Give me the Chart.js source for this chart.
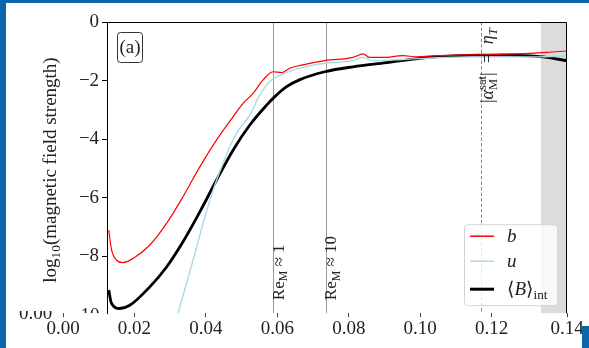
<!DOCTYPE html>
<html>
<head>
<meta charset="utf-8">
<script src="https://cdn.jsdelivr.net/npm/chart.js@4.4.1/dist/chart.umd.min.js"></script>
<style>
  html, body { margin: 0; padding: 0; background: #fff; }
</style>
</head>
<body>
<canvas id="field" width="589" height="348"></canvas>
<script>
'use strict';

// b (red)
const bX = [0.0128, 0.0136, 0.0150, 0.0168, 0.0196, 0.0243, 0.0290, 0.0336, 0.0383, 0.0430, 0.0476, 0.0504, 0.0532, 0.0560, 0.0588, 0.0612, 0.0635, 0.0665, 0.0733, 0.0812, 0.0840, 0.0859, 0.0896, 0.0952, 0.0990, 0.1046, 0.1102, 0.1167, 0.1232, 0.1307, 0.1354, 0.1410];
const bY = [-7.11, -7.79, -8.14, -8.22, -8.08, -7.62, -6.88, -5.97, -4.95, -4.03, -3.24, -2.78, -2.44, -1.98, -1.70, -1.73, -1.58, -1.48, -1.32, -1.21, -1.09, -1.21, -1.21, -1.15, -1.19, -1.15, -1.13, -1.12, -1.10, -1.07, -1.04, -0.99];
// u (light blue)
const uX = [0.0309, 0.0322, 0.0364, 0.0411, 0.0448, 0.0476, 0.0495, 0.0523, 0.0551, 0.0580, 0.0607, 0.0640, 0.0672, 0.0733, 0.0812, 0.0840, 0.0868, 0.0952, 0.1046, 0.1139, 0.1232, 0.1326, 0.1410];
const uY = [-10.5, -9.96, -8.14, -6.09, -4.83, -4.03, -3.63, -3.18, -2.50, -2.02, -1.82, -1.66, -1.55, -1.41, -1.32, -1.21, -1.32, -1.28, -1.22, -1.19, -1.19, -1.19, -1.16];
// <B>_int (black)
const BX = [0.0128, 0.0136, 0.0159, 0.0187, 0.0243, 0.0290, 0.0336, 0.0383, 0.0430, 0.0476, 0.0523, 0.0570, 0.0593, 0.0626, 0.0665, 0.0733, 0.0812, 0.0906, 0.0999, 0.1092, 0.1167, 0.1251, 0.1307, 0.1354, 0.1410];
const BY = [-9.16, -9.62, -9.79, -9.68, -9.05, -8.37, -7.51, -6.49, -5.40, -4.38, -3.52, -2.84, -2.55, -2.21, -1.96, -1.70, -1.53, -1.39, -1.24, -1.16, -1.13, -1.13, -1.16, -1.21, -1.32];

const reLines = [0.0588, 0.0735];
const reLabels = ['1', '10'];
const satLine = 0.1170;
const bandStart = 0.1338;
const yAxisAt = 0.0125;

const SERIF = "'Liberation Serif', 'DejaVu Serif', serif";

function pts(xs, ys) {
    return xs.map((x, i) => ({ x: x, y: ys[i] }));
}

// draws text made of pieces (subscripts, italics), returns width
function rich(ctx, parts, x, y, size, draw) {
    let cx = x, held = 0;
    for (const p of parts) {
        const s = size * (p.s || 1);
        ctx.font = (p.it ? 'italic ' : '') + s + 'px ' + SERIF;
        const w = ctx.measureText(p.t).width;
        if (draw) ctx.fillText(p.t, cx, y + (p.dy || 0) * size);
        if (p.hold) { held = w; } else { cx += Math.max(w, held); held = 0; }
    }
    return cx - x;
}

const decor = {
    id: 'decor',
    beforeDatasetsDraw(chart) {
        const { ctx, chartArea: a, scales: { x } } = chart;
        ctx.save();
        const bx = x.getPixelForValue(bandStart);
        ctx.fillStyle = '#dcdcdc';
        ctx.fillRect(bx, a.top, a.right - bx, a.bottom - a.top);

        ctx.strokeStyle = '#9a9a9a';
        ctx.lineWidth = 1;
        for (const v of reLines) {
            const px = Math.round(x.getPixelForValue(v)) + 0.5;
            ctx.beginPath(); ctx.moveTo(px, a.top); ctx.lineTo(px, a.bottom); ctx.stroke();
        }
        ctx.strokeStyle = '#8a8a8a';
        ctx.setLineDash([3.5, 2]);
        const sx = Math.round(x.getPixelForValue(satLine)) + 0.5;
        ctx.beginPath(); ctx.moveTo(sx, a.top); ctx.lineTo(sx, a.bottom); ctx.stroke();
        ctx.restore();
    },
    afterDraw(chart) {
        const { ctx, chartArea: a, scales: { x } } = chart;
        ctx.save();
        ctx.textBaseline = 'alphabetic';
        ctx.fillStyle = '#222';

        // top and right spines
        const lx = x.getPixelForValue(yAxisAt);
        ctx.strokeStyle = '#000';
        ctx.lineWidth = 1;
        ctx.beginPath();
        ctx.moveTo(lx, a.top + 0.5); ctx.lineTo(a.right - 0.5, a.top + 0.5); ctx.lineTo(a.right - 0.5, a.bottom);
        ctx.stroke();

        // Re_M labels
        reLines.forEach((v, i) => {
            const px = x.getPixelForValue(v);
            const parts = [{ t: 'Re' }, { t: 'M', s: 0.7, dy: 0.22 }, { t: ' \u2248 ' + reLabels[i] }];
            ctx.save();
            ctx.translate(px + 10.5, a.bottom - 13);
            ctx.rotate(-Math.PI / 2);
            rich(ctx, parts, 0, 0, 17, true);
            ctx.restore();
        });

        // |alpha_M^sat| = eta_T
        ctx.save();
        ctx.translate(x.getPixelForValue(satLine) + 12, 103);
        ctx.rotate(-Math.PI / 2);
        rich(ctx, [{ t: '|' }, { t: '\u03B1', it: 1 }, { t: 'sat', s: 0.7, dy: -0.38, hold: 1 },
            { t: 'M', s: 0.7, dy: 0.25 }, { t: '|  =  ' }, { t: '\u03B7', it: 1 }, { t: 'T', s: 0.7, dy: 0.22, it: 1 }],
            0, 0, 18, true);
        ctx.restore();

        // (a) box
        ctx.strokeStyle = '#333';
        ctx.beginPath();
        ctx.roundRect(117.5, 32.5, 25, 30, 3);
        ctx.stroke();
        ctx.textAlign = 'center';
        ctx.font = '19px ' + SERIF;
        ctx.fillText('(a)', 130, 53);
        ctx.textAlign = 'left';

        // legend
        const L = { x: a.right - 103, y: a.bottom - 89, w: 93, h: 81 };
        ctx.fillStyle = 'rgba(255,255,255,0.8)';
        ctx.strokeStyle = '#d4d4d4';
        ctx.beginPath();
        ctx.roundRect(L.x + 0.5, L.y + 0.5, L.w, L.h, 3);
        ctx.fill(); ctx.stroke();
        const rows = [L.y + 12, L.y + 37, L.y + 65];
        const labels = [
            [{ t: 'b', it: 1 }],
            [{ t: 'u', it: 1 }],
            [{ t: '\u27E8' }, { t: 'B', it: 1 }, { t: '\u27E9' }, { t: 'int', s: 0.7, dy: 0.22 }]
        ];
        chart.data.datasets.forEach((ds, i) => {
            ctx.strokeStyle = ds.borderColor;
            ctx.lineWidth = i === 2 ? 3 : 1.5;
            ctx.beginPath(); ctx.moveTo(L.x + 6, rows[i]); ctx.lineTo(L.x + 30, rows[i]); ctx.stroke();
            ctx.fillStyle = '#222';
            rich(ctx, labels[i], L.x + 43, rows[i] + 6, 19, true);
        });

        // y title
        const tParts = [{ t: 'log' }, { t: '10', s: 0.7, dy: 0.22 }, { t: '(magnetic field strength)' }];
        const tw = rich(ctx, tParts, 0, 0, 19, false);
        ctx.save();
        ctx.translate(55.5, 170 + tw / 2);
        ctx.rotate(-Math.PI / 2);
        rich(ctx, tParts, 0, 0, 19, true);
        ctx.restore();

        // cut-off labels at the bottom edge
        ctx.font = '19px ' + SERIF;
        ctx.save();
        ctx.beginPath(); ctx.rect(60, 300, 50, 13); ctx.clip();
        ctx.textAlign = 'right';
        ctx.fillText('\u221210', 99.5, 321);
        ctx.restore();
        ctx.save();
        ctx.beginPath(); ctx.rect(10, 311, 50, 20); ctx.clip();
        ctx.textAlign = 'center';
        ctx.fillText('0.00', 35.5, 318.5);
        ctx.restore();

        // blue frame
        ctx.fillStyle = '#0866ad';
        ctx.fillRect(0, 0, 589, 3);
        ctx.fillRect(0, 0, 6, 348);
        ctx.fillRect(582, 326, 7, 22);
        ctx.restore();
    }
};

new Chart(document.getElementById('field'), {
    type: 'line',
    data: {
        datasets: [
            { label: 'b', data: pts(bX, bY), borderColor: '#ff0000', borderWidth: 1.2 },
            { label: 'u', data: pts(uX, uY), borderColor: '#add8e6', borderWidth: 1.4 },
            { label: 'B', data: pts(BX, BY), borderColor: '#000000', borderWidth: 2.8 }
        ]
    },
    options: {
        responsive: false,
        devicePixelRatio: 1,
        animation: false,
        layout: { padding: { left: 63, right: 22, top: 22, bottom: 8 } },
        elements: {
            point: { radius: 0 },
            line: { cubicInterpolationMode: 'monotone', fill: false }
        },
        datasets: { line: { clip: 0 } },
        scales: {
            x: {
                type: 'linear',
                min: 0,
                max: 0.1411,
                position: 'bottom',
                border: { display: false },
                grid: { drawOnChartArea: false, tickLength: 4, tickColor: '#444' },
                ticks: {
                    stepSize: 0.02,
                    padding: 0,
                    maxRotation: 0,
                    autoSkip: false,
                    color: '#222',
                    font: { family: SERIF, size: 19 },
                    callback: v => v.toFixed(2)
                }
            },
            y: {
                type: 'linear',
                min: -9.95,
                max: 0,
                position: { x: yAxisAt },
                border: { display: true, color: '#000', width: 1 },
                grid: { drawOnChartArea: false, tickLength: 5, tickColor: '#000' },
                ticks: {
                    stepSize: 2,
                    includeBounds: false,
                    color: '#222',
                    font: { family: SERIF, size: 19 },
                    callback: v => (v < 0 ? '\u2212' + (-v) : '0') + ' \u2009'
                }
            }
        },
        plugins: {
            legend: { display: false },
            tooltip: { enabled: false }
        }
    },
    plugins: [decor]
});
</script>
</body>
</html>
